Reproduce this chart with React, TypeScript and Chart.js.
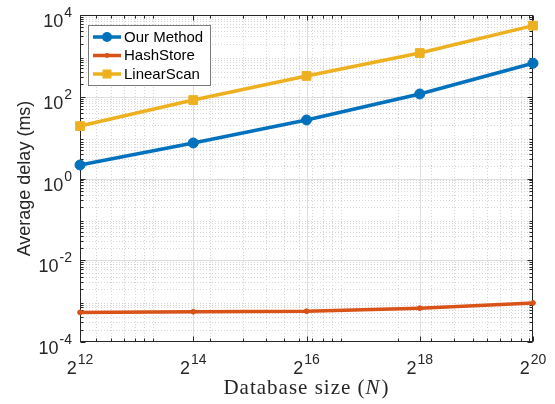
import React, { useEffect, useRef } from "react";
import { Chart, registerables } from "chart.js";

Chart.register(...registerables);

// ---- data ----
const exponents = [12, 14, 16, 18, 20];
const ourMethod = [2.14, 7.4, 27, 117, 660];
const hashStore = [5.3e-4, 5.5e-4, 5.65e-4, 6.7e-4, 9.0e-4];
const linearScan = [19.2, 83, 323, 1175, 5500];
const xTickExps = ["12", "14", "16", "18", "20"];
const yTickExps = [-4, -2, 0, 2, 4];
const seriesNames = ["Our Method", "HashStore", "LinearScan"];
const seriesColors = ["#0072BD", "#D95319", "#EDB120"];

const AX = "#262626";
const SANS = "'Liberation Sans', Arial, sans-serif";
const SERIF = "'Liberation Serif', 'Times New Roman', serif";

const toPts = (vals: number[]) => vals.map((v, i) => ({ x: Math.pow(2, exponents[i]), y: v }));

const decorPlugin = {
  id: "decor",
  beforeDatasetsDraw(chart: any) {
    const { ctx, chartArea: a, scales } = chart;
    const xs = scales.x;
    const ys = scales.y;
    const xmin = Math.pow(2, exponents[0]);
    const xmax = Math.pow(2, exponents[exponents.length - 1]);
    ctx.save();
    // minor grid
    ctx.setLineDash([1, 2]);
    ctx.strokeStyle = "#d6d6d6";
    ctx.lineWidth = 1;
    const minorY: number[] = [];
    for (let k = -4; k < 4; k++) for (let m = 2; m <= 9; m++) minorY.push(m * Math.pow(10, k));
    const minorX: number[] = [];
    for (let k = 3; k <= 6; k++) for (let m = 1; m <= 9; m++) {
      const v = m * Math.pow(10, k);
      if (v > xmin && v < xmax) minorX.push(v);
    }
    minorY.forEach((v) => {
      const py = Math.round(ys.getPixelForValue(v)) + 0.5;
      ctx.beginPath(); ctx.moveTo(a.left, py); ctx.lineTo(a.right, py); ctx.stroke();
    });
    minorX.forEach((v) => {
      const px = Math.round(xs.getPixelForValue(v)) + 0.5;
      ctx.beginPath(); ctx.moveTo(px, a.top); ctx.lineTo(px, a.bottom); ctx.stroke();
    });
    // major grid
    ctx.setLineDash([]);
    ctx.strokeStyle = "#dedede";
    yTickExps.slice(1, -1).forEach((e) => {
      const py = Math.round(ys.getPixelForValue(Math.pow(10, e))) + 0.5;
      ctx.beginPath(); ctx.moveTo(a.left, py); ctx.lineTo(a.right, py); ctx.stroke();
    });
    exponents.slice(1, -1).forEach((e) => {
      const px = Math.round(xs.getPixelForValue(Math.pow(2, e))) + 0.5;
      ctx.beginPath(); ctx.moveTo(px, a.top); ctx.lineTo(px, a.bottom); ctx.stroke();
    });
    // box
    ctx.strokeStyle = AX;
    ctx.lineWidth = 1;
    const L = Math.round(a.left) + 0.5, R = Math.round(a.right) - 0.5;
    const T = Math.round(a.top) + 0.5, B = Math.round(a.bottom) - 0.5;
    ctx.strokeRect(L, T, R - L, B - T);
    // ticks
    const tick = (v: number, len: number, isX: boolean) => {
      if (isX) {
        const px = Math.round(xs.getPixelForValue(v)) + 0.5;
        ctx.beginPath();
        ctx.moveTo(px, B); ctx.lineTo(px, B - len);
        ctx.moveTo(px, T); ctx.lineTo(px, T + len);
        ctx.stroke();
      } else {
        const py = Math.round(ys.getPixelForValue(v)) + 0.5;
        ctx.beginPath();
        ctx.moveTo(L, py); ctx.lineTo(L + len, py);
        ctx.moveTo(R, py); ctx.lineTo(R - len, py);
        ctx.stroke();
      }
    };
    minorY.forEach((v) => tick(v, 3, false));
    minorX.forEach((v) => tick(v, 3, true));
    yTickExps.forEach((e) => tick(Math.pow(10, e), 5, false));
    exponents.forEach((e) => tick(Math.pow(2, e), 5, true));
    ctx.restore();
  },
  afterDraw(chart: any) {
    const { ctx, chartArea: a, scales } = chart;
    const xs = scales.x;
    const ys = scales.y;
    ctx.save();
    ctx.fillStyle = AX;
    ctx.textBaseline = "alphabetic";
    ctx.textAlign = "left";
    const baseFont = `18px ${SANS}`;
    const supFont = `14px ${SANS}`;
    // y tick labels
    yTickExps.forEach((e) => {
      const py = ys.getPixelForValue(Math.pow(10, e));
      const sup = String(e);
      ctx.font = baseFont;
      const wb = ctx.measureText("10").width;
      ctx.font = supFont;
      const we = ctx.measureText(sup).width;
      const start = a.left - 8 - (wb + 1 + we);
      ctx.font = baseFont;
      ctx.fillText("10", start, py + 12);
      ctx.font = supFont;
      ctx.fillText(sup, start + wb + 1, py + 2);
    });
    // x tick labels
    exponents.forEach((e, i) => {
      const px = xs.getPixelForValue(Math.pow(2, e));
      const sup = xTickExps[i];
      ctx.font = baseFont;
      const wb = ctx.measureText("2").width;
      ctx.font = supFont;
      const we = ctx.measureText(sup).width;
      const start = px - (wb + 1 + we) / 2;
      ctx.font = baseFont;
      ctx.fillText("2", start, 374);
      ctx.font = supFont;
      ctx.fillText(sup, start + wb + 1, 364);
    });
    // y title
    ctx.save();
    ctx.translate(25, (a.top + a.bottom) / 2);
    ctx.rotate(-Math.PI / 2);
    ctx.font = `18px ${SANS}`;
    ctx.textAlign = "center";
    ctx.textBaseline = "middle";
    ctx.fillText("Average delay (ms)", 0, 0);
    ctx.restore();
    // x title
    const p1 = "Database size (";
    const p2 = "N";
    const p3 = ")";
    (ctx as any).letterSpacing = "1px";
    const fN = `21px ${SERIF}`;
    const fI = `italic 21px ${SERIF}`;
    ctx.font = fN; const w1 = ctx.measureText(p1).width; const w3 = ctx.measureText(p3).width;
    ctx.font = fI; const w2 = ctx.measureText(p2).width;
    let sx = (a.left + a.right) / 2 - (w1 + w2 + w3 + 1) / 2;
    const by = 394;
    ctx.font = fN; ctx.fillText(p1, sx, by); sx += w1;
    ctx.font = fI; ctx.fillText(p2, sx, by); sx += w2 + 1;
    ctx.font = fN; ctx.fillText(p3, sx, by);
    (ctx as any).letterSpacing = "0px";
    // legend
    const lx = 88.5, ly = 25.5, lw = 122, lh = 60;
    ctx.fillStyle = "#ffffff";
    ctx.fillRect(lx, ly, lw, lh);
    ctx.strokeStyle = "#7a7a7a";
    ctx.lineWidth = 1;
    ctx.strokeRect(lx, ly, lw, lh);
    const rows = [37, 55.5, 74];
    seriesNames.forEach((name, i) => {
      const ry = rows[i];
      const col = seriesColors[i];
      ctx.strokeStyle = col;
      ctx.fillStyle = col;
      ctx.lineWidth = 3.5;
      ctx.beginPath(); ctx.moveTo(93, ry); ctx.lineTo(121, ry); ctx.stroke();
      if (i === 0) { ctx.beginPath(); ctx.arc(107, ry, 5, 0, Math.PI * 2); ctx.fill(); }
      if (i === 1) { ctx.beginPath(); ctx.arc(107, ry, 2.4, 0, Math.PI * 2); ctx.fill(); }
      if (i === 2) { ctx.fillRect(107 - 4.5, ry - 4.5, 9, 9); }
      ctx.fillStyle = "#000000";
      ctx.font = `15px ${SANS}`;
      ctx.textBaseline = "middle";
      ctx.fillText(name, 124, ry + 0.5);
      ctx.textBaseline = "alphabetic";
    });
    ctx.restore();
  },
};

export default function App() {
  const ref = useRef<HTMLCanvasElement | null>(null);
  useEffect(() => {
    if (!ref.current) return;
    const mk = (i: number, vals: number[], style: string, r: number) => ({
      label: seriesNames[i],
      data: toPts(vals),
      borderColor: seriesColors[i],
      backgroundColor: seriesColors[i],
      pointBackgroundColor: seriesColors[i],
      pointBorderColor: seriesColors[i],
      borderWidth: 3.5,
      pointStyle: style,
      pointRadius: r,
      pointBorderWidth: 1,
      clip: false as any,
      tension: 0,
    });
    const chart = new Chart(ref.current, {
      type: "line",
      data: {
        datasets: [
          mk(2, linearScan, "rect", 6.2),
          mk(1, hashStore, "circle", 2.4),
          mk(0, ourMethod, "circle", 5),
        ],
      },
      options: {
        responsive: false,
        animation: false,
        devicePixelRatio: 1,
        layout: { padding: { left: 0, right: 22, top: 15, bottom: 0 } },
        plugins: { legend: { display: false }, tooltip: { enabled: false } },
        scales: {
          x: {
            type: "logarithmic",
            min: Math.pow(2, exponents[0]),
            max: Math.pow(2, exponents[exponents.length - 1]),
            grid: { display: false },
            border: { display: false },
            ticks: { display: false },
            afterFit: (s: any) => { s.height = 62; },
          },
          y: {
            type: "logarithmic",
            min: Math.pow(10, yTickExps[0]),
            max: Math.pow(10, yTickExps[yTickExps.length - 1]),
            grid: { display: false },
            border: { display: false },
            ticks: { display: false },
            afterFit: (s: any) => { s.width = 80; },
          },
        },
      } as any,
      plugins: [decorPlugin],
    });
    return () => chart.destroy();
  }, []);
  return (
    <div style={{ position: "absolute", left: 0, top: 0, width: 555, height: 404, background: "#fff" }}>
      <canvas ref={ref} width={555} height={404} style={{ width: 555, height: 404, display: "block" }} />
    </div>
  );
}
